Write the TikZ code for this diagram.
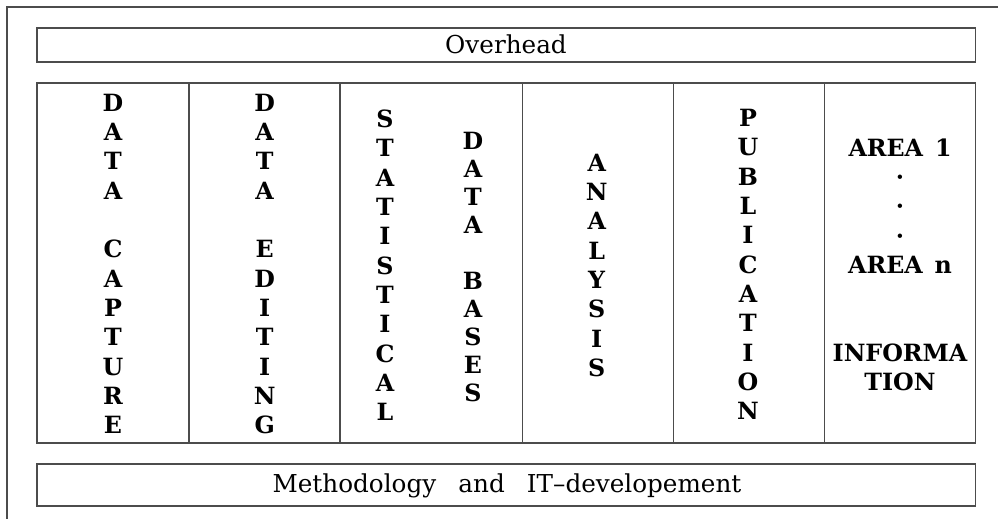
\documentclass[tikz,border=0pt]{standalone}
\usepackage{fontspec}
\setmainfont{DejaVu Serif}
\begin{document}
\begin{tikzpicture}[x=0.75pt,y=-0.75pt,
  frame/.style={draw=black!70,line width=0.85pt},
  label/.style={inner sep=0pt,font=\fontsize{18.5}{22}\selectfont},
  vert/.style={inner sep=0pt,align=center,font=\bfseries\fontsize{17.8}{22}\selectfont},
  vertb/.style={inner sep=0pt,align=center,font=\bfseries\fontsize{17.8}{21}\selectfont},
  area/.style={inner sep=0pt,align=center,font=\bfseries\fontsize{17.8}{21.9}\selectfont}]
\useasboundingbox (0,0) rectangle (998,519);
% outer frame (only top and left edges lie inside the picture)
\draw[frame] (998,7) -- (7,7) -- (7,519);
% boxes
\draw[frame] (37,28) rectangle (975.7,62);
\draw[frame] (37,83) rectangle (975.7,443);
\draw[frame] (37,464) rectangle (975.7,506);
\foreach \cx in {189,340,522.7,673.5,824.7}
  \draw[frame] (\cx,83) -- (\cx,443);
% labels
\node[label] (overhead) at (506,44) {Overhead};
\node[label] (method) at (507,486) {Methodology\hspace{0.9em}and\hspace{0.9em}IT–developement};
\node[vert] (capture) at (113,264) {D\\A\\T\\A\\\mbox{}\\C\\A\\P\\T\\U\\R\\E};
\node[vert] (editing) at (264.7,264) {D\\A\\T\\A\\\mbox{}\\E\\D\\I\\T\\I\\N\\G};
\node[vert] (statistical) at (385,265.5) {S\\T\\A\\T\\I\\S\\T\\I\\C\\A\\L};
\node[vertb] (databases) at (473,267) {D\\A\\T\\A\\\mbox{}\\B\\A\\S\\E\\S};
\node[vert] (analysis) at (596.7,265.5) {A\\N\\A\\L\\Y\\S\\I\\S};
\node[vert] (publication) at (748,264.5) {P\\U\\B\\L\\I\\C\\A\\T\\I\\O\\N};
\node[area] (areas) at (900,206) {AREA\hspace{0.5em}1\\·\\·\\·\\AREA\hspace{0.5em}n};
\node[area] (info) at (900,367) {INFORMA\\TION};
\end{tikzpicture}
\end{document}
